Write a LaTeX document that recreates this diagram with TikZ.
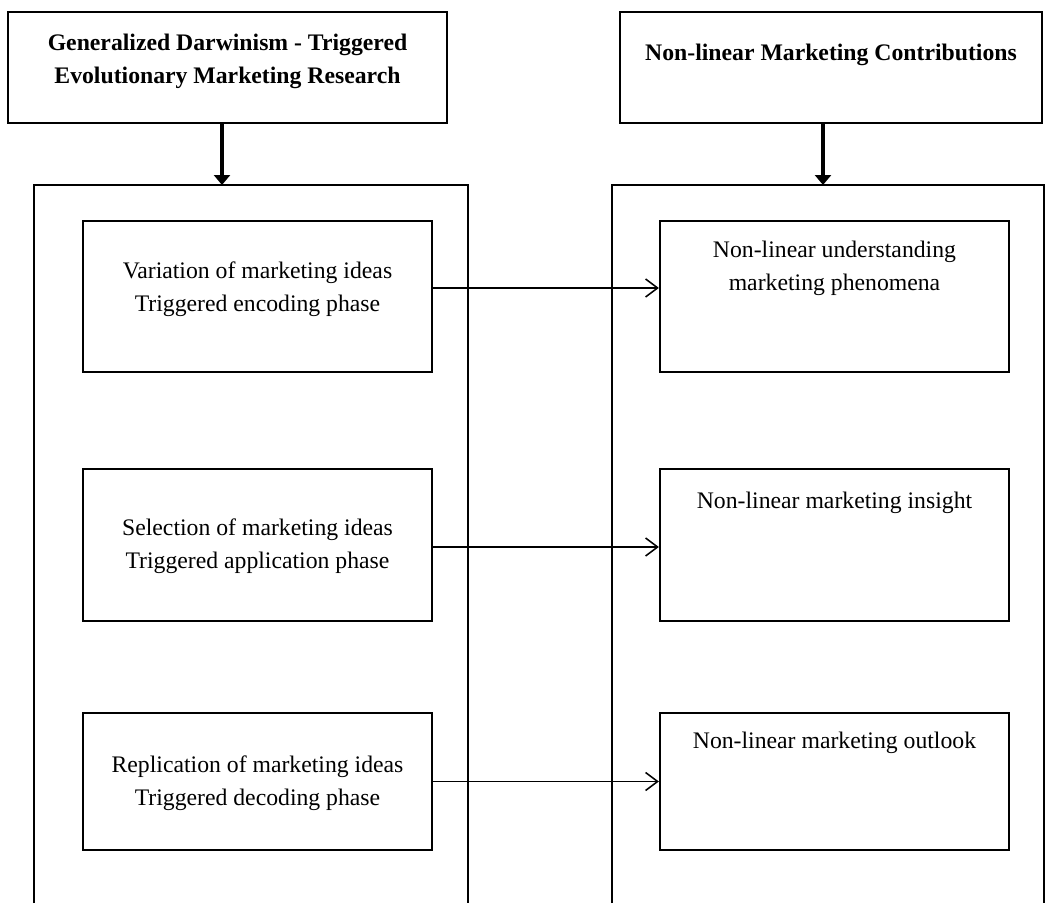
\documentclass[tikz,border=0pt]{standalone}
\usepackage{fontspec}
\setmainfont{Liberation Serif}
\usetikzlibrary{arrows.meta,shadows}

\begin{document}
\begin{tikzpicture}[x=0.02cm, y=-0.02cm,
		>={Straight Barb[length=2.4mm,width=3.6mm]},
		txt/.style={font=\fontsize{13.5}{18.8}\selectfont, align=center},
		headbox/.style={draw, line width=1.6pt, minimum width=#1, minimum height=2.22cm},
		stagebox/.style={draw, fill=white, line width=1.3pt, minimum width=6.98cm, minimum height=#1,
			drop shadow={shadow xshift=0.7pt, shadow yshift=-0.7pt, fill=black!45, opacity=1}},
		frame/.style={line width=1.3pt},
		down/.style={line width=1.8pt, -{Triangle[length=2mm,width=3.2mm]}},
		link/.style={line width=0.9pt, ->}]
	\useasboundingbox (0,0) rectangle (1045,903);
	% headers
	\node[headbox=8.78cm] (gd) at (227.5,67.5) {};
	\node[headbox=8.44cm] (nl) at (831,67.5) {};
	\node[txt, font=\bfseries\fontsize{13.5}{18.8}\selectfont] at (227.5,61.5) {Generalized Darwinism - Triggered\\Evolutionary Marketing Research};
	\node[txt, font=\bfseries\fontsize{13.5}{18.8}\selectfont] at (831,55) {Non-linear Marketing Contributions};
	% open frames
	\draw[frame] (34,903) -- (34,185) -- (468,185) -- (468,903);
	\draw[frame] (612,903) -- (612,185) -- (1044,185) -- (1044,903);
	\coordinate (evo) at (222,185);
	\coordinate (con) at (823,185);
	\draw[down] (gd.south -| evo) -- (evo);
	\draw[down] (nl.south -| con) -- (con);
	% left column
	\node[stagebox=3.02cm] (var) at (257.5,296.5) {};
	\node[stagebox=3.04cm] (sel) at (257.5,545) {};
	\node[stagebox=2.74cm] (rep) at (257.5,781.5) {};
	\node[txt] at (257.5,289) {Variation of marketing ideas\\Triggered encoding phase};
	\node[txt] at (257.5,546.5) {Selection of marketing ideas\\Triggered application phase};
	\node[txt] at (257.5,783.5) {Replication of marketing ideas\\Triggered decoding phase};
	% right column
	\node[stagebox=3.02cm] (und) at (834.5,296.5) {};
	\node[stagebox=3.04cm] (ins) at (834.5,545) {};
	\node[stagebox=2.74cm] (out) at (834.5,781.5) {};
	\node[txt] at (834.5,268.5) {Non-linear understanding\\marketing phenomena};
	\node[txt] at (834.5,503) {Non-linear marketing insight};
	\node[txt] at (834.5,743) {Non-linear marketing outlook};
	% links
	\draw[link] ([yshift=0.17cm]var.east) -- ([yshift=0.17cm]und.west);
	\draw[link] ([yshift=-0.04cm]sel.east) -- ([yshift=-0.04cm]ins.west);
	\draw[link] (rep.east) -- (out.west);
\end{tikzpicture}
\end{document}
